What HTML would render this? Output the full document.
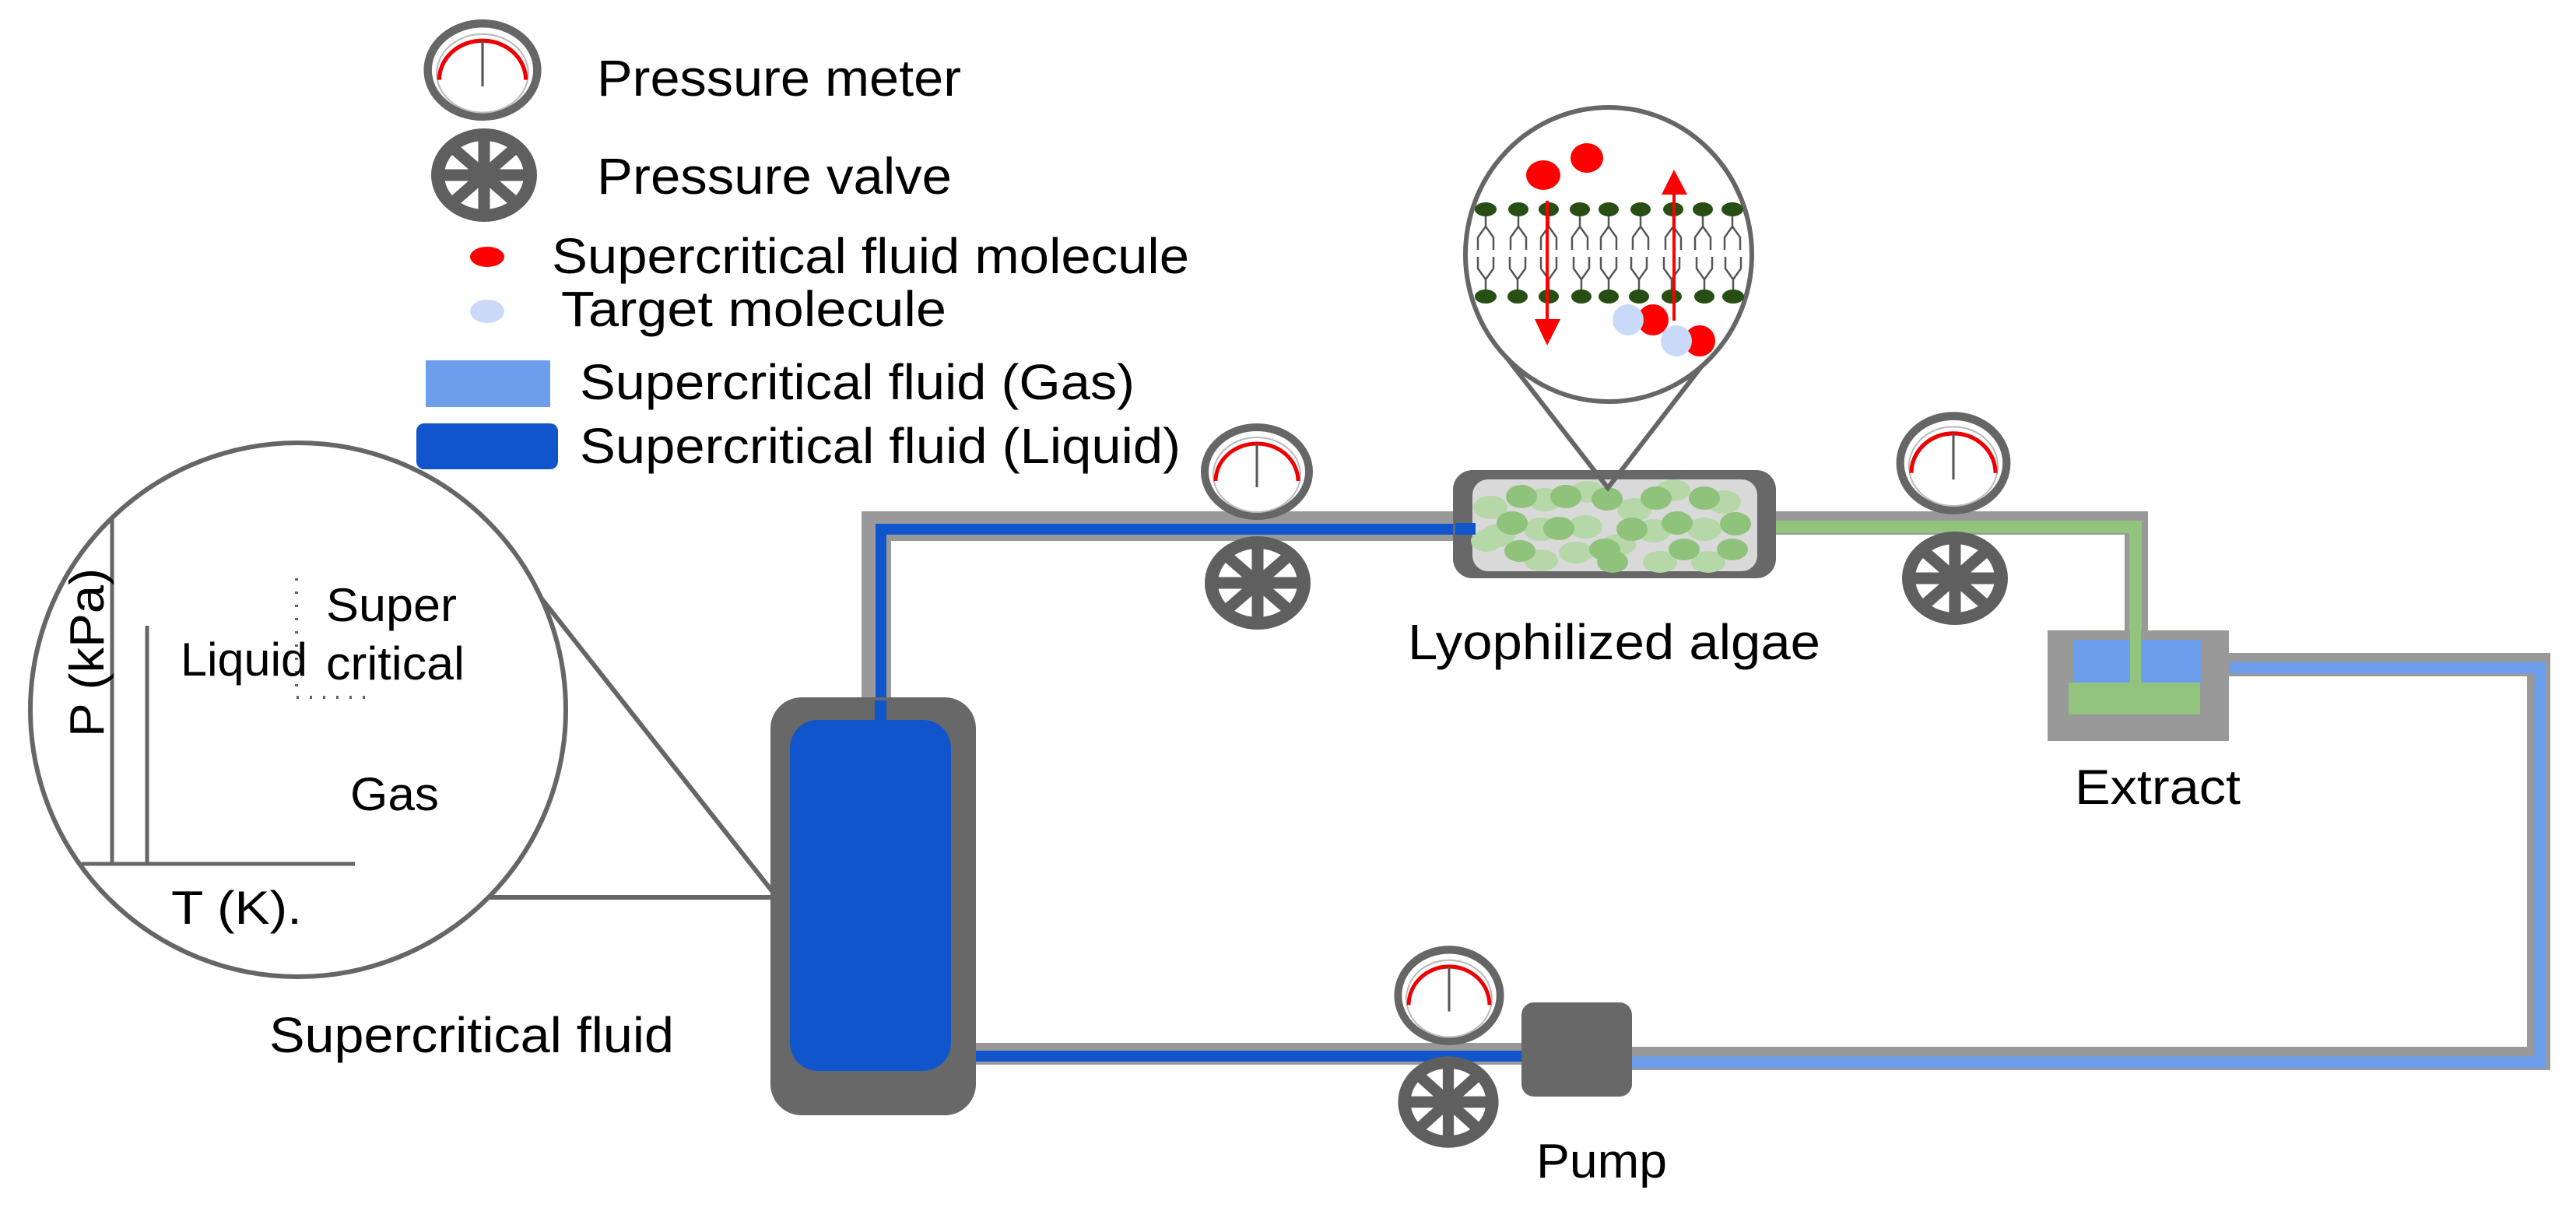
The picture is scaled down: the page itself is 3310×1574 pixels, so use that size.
<!DOCTYPE html>
<html><head><meta charset="utf-8"><style>html,body{margin:0;padding:0;background:#fff}svg{display:block}text{font-family:"Liberation Sans",Arial,sans-serif;fill:#000}</style></head><body>
<svg width="3310" height="1574" viewBox="0 0 3310 1574" xmlns="http://www.w3.org/2000/svg">
<defs>
<g id="meter"><ellipse cx="0" cy="0" rx="67" ry="57" fill="#fff" stroke="#666" stroke-width="10"/><ellipse cx="0" cy="4" rx="56" ry="48" fill="none" stroke="#bbb" stroke-width="2"/><path d="M-53,12 A53,48 0 0 1 53,12" fill="none" stroke="#e00" stroke-width="5"/><line x1="0" y1="-36" x2="0" y2="20" stroke="#555" stroke-width="3"/></g>
<g id="valve"><ellipse cx="0" cy="0" rx="68" ry="60" fill="#5f5f5f"/><ellipse cx="0" cy="0" rx="51" ry="44" fill="#fff"/><g stroke="#5f5f5f" stroke-width="15"><line x1="-55" y1="0" x2="55" y2="0"/><line x1="0" y1="-48" x2="0" y2="48"/><line x1="-39" y1="-34" x2="39" y2="34"/><line x1="-39" y1="34" x2="39" y2="-34"/></g><ellipse cx="0" cy="0" rx="14" ry="12" fill="#5f5f5f"/></g>
</defs>

<!-- Legend -->
<use href="#meter" transform="translate(620,90) scale(1.05)"/>
<text x="767" y="123" font-size="66" textLength="468" lengthAdjust="spacingAndGlyphs">Pressure meter</text>
<use href="#valve" transform="translate(622,225)"/>
<text x="767" y="249" font-size="66" textLength="456" lengthAdjust="spacingAndGlyphs">Pressure valve</text>
<ellipse cx="626" cy="330" rx="22" ry="13" fill="#f00"/>
<text x="709" y="351" font-size="64" textLength="819" lengthAdjust="spacingAndGlyphs">Supercritical fluid molecule</text>
<ellipse cx="626" cy="400" rx="22" ry="15" fill="#c9daf8"/>
<text x="721" y="419" font-size="64" textLength="495" lengthAdjust="spacingAndGlyphs">Target molecule</text>
<rect x="547" y="463" width="160" height="60" fill="#6d9eeb"/>
<text x="745" y="513" font-size="64" textLength="713" lengthAdjust="spacingAndGlyphs">Supercritical fluid (Gas)</text>
<rect x="535" y="544" width="182" height="59" rx="10" fill="#1155cc"/>
<text x="745" y="595" font-size="64" textLength="772" lengthAdjust="spacingAndGlyphs">Supercritical fluid (Liquid)</text>

<!-- Phase diagram circle -->
<line x1="628" y1="683" x2="1000" y2="1155" stroke="#666" stroke-width="6"/>
<line x1="620" y1="1153" x2="1015" y2="1153" stroke="#666" stroke-width="6"/>
<ellipse cx="383" cy="912" rx="344" ry="343" fill="#fff" stroke="#666" stroke-width="6"/>
<line x1="144" y1="666" x2="144" y2="1110" stroke="#666" stroke-width="5"/>
<line x1="189" y1="804" x2="189" y2="1110" stroke="#666" stroke-width="5"/>
<line x1="105" y1="1110" x2="456" y2="1110" stroke="#666" stroke-width="5"/>
<line x1="381" y1="743" x2="381" y2="896" stroke="#666" stroke-width="4" stroke-dasharray="3,14"/>
<line x1="381" y1="896" x2="476" y2="896" stroke="#666" stroke-width="4" stroke-dasharray="3,14"/>
<text transform="translate(133,947) rotate(-90)" font-size="62" textLength="217" lengthAdjust="spacingAndGlyphs">P (kPa)</text>
<text x="419" y="798" font-size="60" textLength="168" lengthAdjust="spacingAndGlyphs">Super</text>
<text x="232" y="868" font-size="60" textLength="163" lengthAdjust="spacingAndGlyphs">Liquid</text>
<text x="419" y="873" font-size="60" textLength="178" lengthAdjust="spacingAndGlyphs">critical</text>
<text x="450" y="1041" font-size="60" textLength="114" lengthAdjust="spacingAndGlyphs">Gas</text>
<text x="220" y="1187" font-size="60" textLength="168" lengthAdjust="spacingAndGlyphs">T (K).</text>
<text x="346" y="1352" font-size="64" textLength="520" lengthAdjust="spacingAndGlyphs">Supercritical fluid</text>

<!-- Top pipe from tank to algae -->
<path d="M1126,900 L1126,676 L1870,676" fill="none" stroke="#999" stroke-width="38"/>
<path d="M1132,930 L1132,680 L1895,680" fill="none" stroke="#1155cc" stroke-width="14"/>

<!-- Green pipe -->
<path d="M2280,672 L2745,672 L2745,815" fill="none" stroke="#999" stroke-width="30"/>
<path d="M2280,677 L2744,677 L2744,878" fill="none" stroke="#93c47d" stroke-width="16"/>

<!-- Right & bottom return pipe -->
<path d="M2829,854 L3262,854 L3262,1360 L2000,1360" fill="none" stroke="#999" stroke-width="30"/>
<path d="M2829,858 L3264,858 L3264,1365 L2000,1365" fill="none" stroke="#6d9eeb" stroke-width="15"/>
<rect x="1230" y="1340" width="740" height="28" fill="#999"/>
<rect x="1230" y="1350" width="740" height="14" fill="#1155cc"/>

<!-- Tank -->
<rect x="990" y="896" width="264" height="537" rx="40" fill="#686868"/>
<rect x="1015" y="925" width="207" height="451" rx="36" fill="#1155cc"/>
<rect x="1124" y="900" width="15" height="30" fill="#1155cc"/>

<!-- Algae box -->
<rect x="1867" y="604" width="415" height="139" rx="25" fill="#686868"/>
<rect x="1892" y="616" width="366" height="118" rx="20" fill="#d9d9d9"/>
<g fill="#b6d7a8">
<ellipse cx="1915" cy="652" rx="22" ry="15"/><ellipse cx="1985" cy="642" rx="22" ry="15"/><ellipse cx="2040" cy="632" rx="22" ry="14"/><ellipse cx="2100" cy="655" rx="22" ry="15"/><ellipse cx="2150" cy="630" rx="22" ry="14"/><ellipse cx="2215" cy="645" rx="22" ry="15"/>
<ellipse cx="1925" cy="688" rx="22" ry="15"/><ellipse cx="1980" cy="680" rx="22" ry="15"/><ellipse cx="2037" cy="677" rx="22" ry="15"/><ellipse cx="2125" cy="682" rx="22" ry="15"/><ellipse cx="2190" cy="680" rx="22" ry="15"/>
<ellipse cx="1910" cy="695" rx="20" ry="14"/><ellipse cx="1980" cy="720" rx="22" ry="14"/><ellipse cx="2025" cy="710" rx="22" ry="14"/><ellipse cx="2133" cy="722" rx="22" ry="14"/><ellipse cx="2195" cy="722" rx="22" ry="14"/><ellipse cx="2080" cy="700" rx="22" ry="14"/>
</g>
<g fill="#8fc27a">
<ellipse cx="1955" cy="638" rx="20" ry="15"/><ellipse cx="2012" cy="638" rx="20" ry="15"/><ellipse cx="2065" cy="641" rx="20" ry="15"/><ellipse cx="2128" cy="640" rx="20" ry="15"/><ellipse cx="2190" cy="640" rx="20" ry="15"/>
<ellipse cx="1943" cy="672" rx="20" ry="15"/><ellipse cx="2003" cy="679" rx="20" ry="15"/><ellipse cx="2097" cy="680" rx="20" ry="15"/><ellipse cx="2155" cy="672" rx="20" ry="15"/><ellipse cx="2230" cy="673" rx="20" ry="15"/>
<ellipse cx="1953" cy="708" rx="20" ry="14"/><ellipse cx="2062" cy="706" rx="20" ry="14"/><ellipse cx="2072" cy="722" rx="20" ry="14"/><ellipse cx="2164" cy="706" rx="20" ry="14"/><ellipse cx="2226" cy="706" rx="20" ry="14"/>
</g>
<rect x="1870" y="672" width="26" height="15" fill="#1155cc"/>

<!-- Zoom bubble -->
<path d="M1934,457 L2066,627 L2197,457" fill="none" stroke="#666" stroke-width="6"/>
<ellipse cx="2067" cy="327" rx="184" ry="189" fill="#fff" stroke="#666" stroke-width="6"/>
<g stroke="#555" stroke-width="2.5" fill="none">
<path d="M1909,277 v14 l-10,14 v16 M1909,291 l10,14 v16 M1951,277 v14 l-10,14 v16 M1951,291 l10,14 v16 M1990,277 v14 l-10,14 v16 M1990,291 l10,14 v16 M2030,277 v14 l-10,14 v16 M2030,291 l10,14 v16 M2067,277 v14 l-10,14 v16 M2067,291 l10,14 v16 M2108,277 v14 l-10,14 v16 M2108,291 l10,14 v16 M2150,277 v14 l-10,14 v16 M2150,291 l10,14 v16 M2188,277 v14 l-10,14 v16 M2188,291 l10,14 v16 M2226,277 v14 l-10,14 v16 M2226,291 l10,14 v16"/>
<path d="M1909,373 v-14 l-10,-14 v-15 M1909,359 l10,-14 v-15 M1950,373 v-14 l-10,-14 v-15 M1950,359 l10,-14 v-15 M1990,373 v-14 l-10,-14 v-15 M1990,359 l10,-14 v-15 M2032,373 v-14 l-10,-14 v-15 M2032,359 l10,-14 v-15 M2067,373 v-14 l-10,-14 v-15 M2067,359 l10,-14 v-15 M2106,373 v-14 l-10,-14 v-15 M2106,359 l10,-14 v-15 M2148,373 v-14 l-10,-14 v-15 M2148,359 l10,-14 v-15 M2190,373 v-14 l-10,-14 v-15 M2190,359 l10,-14 v-15 M2227,373 v-14 l-10,-14 v-15 M2227,359 l10,-14 v-15"/>
</g>
<g fill="#274e13">
<ellipse cx="1909" cy="269" rx="14" ry="9"/><ellipse cx="1951" cy="269" rx="13" ry="9"/><ellipse cx="1990" cy="269" rx="13" ry="9"/><ellipse cx="2030" cy="269" rx="13" ry="9"/><ellipse cx="2067" cy="269" rx="13" ry="9"/><ellipse cx="2108" cy="269" rx="13" ry="9"/><ellipse cx="2150" cy="269" rx="13" ry="9"/><ellipse cx="2188" cy="269" rx="13" ry="9"/><ellipse cx="2226" cy="269" rx="14" ry="9"/>
<ellipse cx="1909" cy="381" rx="14" ry="9"/><ellipse cx="1950" cy="381" rx="13" ry="9"/><ellipse cx="1990" cy="381" rx="13" ry="9"/><ellipse cx="2032" cy="381" rx="13" ry="9"/><ellipse cx="2067" cy="381" rx="13" ry="9"/><ellipse cx="2106" cy="381" rx="13" ry="9"/><ellipse cx="2148" cy="381" rx="13" ry="9"/><ellipse cx="2190" cy="381" rx="13" ry="9"/><ellipse cx="2227" cy="381" rx="14" ry="9"/>
</g>
<ellipse cx="1983" cy="225" rx="22" ry="19" fill="#f00"/>
<ellipse cx="2039" cy="203" rx="21" ry="19" fill="#f00"/>
<line x1="1988" y1="258" x2="1988" y2="415" stroke="#f00" stroke-width="4"/>
<polygon points="1972,410 2005,410 1988,444" fill="#f00"/>
<line x1="2151" y1="412" x2="2151" y2="245" stroke="#f00" stroke-width="4"/>
<polygon points="2135,250 2168,250 2151,218" fill="#f00"/>
<ellipse cx="2124" cy="411" rx="20" ry="20" fill="#f00"/>
<ellipse cx="2092" cy="411" rx="20" ry="20" fill="#c9daf8"/>
<ellipse cx="2184" cy="438" rx="20" ry="20" fill="#f00"/>
<ellipse cx="2154" cy="438" rx="20" ry="20" fill="#c9daf8"/>

<text x="1809" y="847" font-size="64" textLength="530" lengthAdjust="spacingAndGlyphs">Lyophilized algae</text>

<!-- Extract -->
<rect x="2631" y="810" width="233" height="142" fill="#999"/>
<rect x="2664" y="822" width="165" height="55" fill="#6d9eeb"/>
<rect x="2658" y="877" width="169" height="41" fill="#93c47d"/>
<rect x="2737" y="810" width="14" height="68" fill="#93c47d"/>
<text x="2666" y="1033" font-size="63" textLength="213" lengthAdjust="spacingAndGlyphs">Extract</text>

<!-- Pump -->
<rect x="1955" y="1288" width="142" height="121" rx="16" fill="#686868"/>
<text x="1974" y="1513" font-size="62" textLength="168" lengthAdjust="spacingAndGlyphs">Pump</text>

<!-- Meters & valves on lines -->
<use href="#meter" transform="translate(1615,606)"/>
<use href="#valve" transform="translate(1616,749)"/>
<use href="#meter" transform="translate(2510,595) scale(1.02,1.06)"/>
<use href="#valve" transform="translate(2512,743)"/>
<use href="#meter" transform="translate(1862,1279) scale(0.98,1.03)"/>
<use href="#valve" transform="translate(1861,1416) scale(0.95,0.98)"/>
</svg>
</body></html>
